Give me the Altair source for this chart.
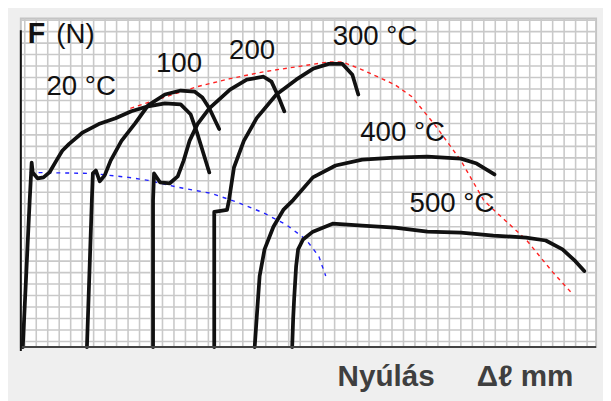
import altair as alt
import pandas as pd

# Curves (arbitrary elongation units, force units)
c20_x = [2, 9, 11, 12, 17, 23, 29, 36, 42, 49, 62, 79, 96, 112, 129, 146, 162, 172, 179, 191]
c20_y = [0, 149, 187, 177, 171, 172, 177, 189, 199, 206, 217, 226, 232, 239, 244, 247, 246, 236, 216, 177]

c100_x = [67, 72, 73, 76, 80, 85, 91, 102, 116, 129, 146, 162, 176, 184, 191, 201]
c100_y = [0, 149, 176, 179, 168, 174, 189, 209, 227, 245, 256, 260, 259, 253, 242, 221]

c200_x = [134, 134, 135, 141, 151, 159, 165, 171, 179, 191, 212, 229, 246, 254, 261, 267]
c200_y = [0, 149, 176, 167, 166, 173, 189, 209, 226, 242, 261, 271, 274, 269, 254, 239]

c300_x = [196, 196, 209, 211, 216, 226, 239, 259, 279, 296, 312, 326, 336, 342]
c300_y = [0, 137, 139, 149, 182, 209, 232, 256, 271, 282, 287, 287, 276, 256]

c400_x = [237, 239, 242, 247, 256, 266, 276, 296, 319, 346, 379, 412, 446, 462, 480]
c400_y = [0, 29, 72, 99, 122, 139, 149, 172, 184, 190, 192, 193, 191, 186, 175]

c500_x = [275, 276, 277, 279, 281, 286, 296, 316, 346, 379, 412, 446, 479, 512, 532, 549, 562, 571]
c500_y = [0, 29, 49, 82, 99, 109, 117, 125, 123, 121, 117, 116, 113, 111, 108, 99, 87, 77]

red_x = [111, 179, 212, 246, 279, 312, 326, 346, 379, 396, 419, 446, 469, 476, 512, 539, 559]
red_y = [242, 264, 272, 279, 284, 289, 289, 281, 266, 254, 226, 189, 149, 142, 109, 76, 54]

blue_x = [9, 72, 109, 129, 159, 192, 219, 246, 269, 289, 302, 309]
blue_y = [177, 176, 172, 169, 162, 156, 147, 136, 124, 109, 92, 72]

curve_names = ["20 °C", "100", "200", "300 °C", "400 °C", "500 °C"]
curve_xs = [c20_x, c100_x, c200_x, c300_x, c400_x, c500_x]
curve_ys = [c20_y, c100_y, c200_y, c300_y, c400_y, c500_y]

label_text = ["20 °C", "100", "200", "300 °C", "400 °C", "500 °C"]
label_x = [26, 137, 211, 316, 344, 394]
label_y = [255, 279, 292, 306, 209, 137]

X_MAX, Y_MAX = 583, 333
GRID = 11.63
grid_x = [round(4 + GRID * k, 2) for k in range(50)]
grid_y = [round(5.7 + GRID * k, 2) for k in range(29)]

rows = []
for name, xs_, ys_ in zip(curve_names, curve_xs, curve_ys):
    for i, (a, b) in enumerate(zip(xs_, ys_)):
        rows.append({"s": name, "x": a, "y": b, "o": i})
curves = pd.DataFrame(rows)
red = pd.DataFrame({"x": red_x, "y": red_y, "o": range(len(red_x))})
blue = pd.DataFrame({"x": blue_x, "y": blue_y, "o": range(len(blue_x))})
labels = pd.DataFrame({"t": label_text, "x": label_x, "y": label_y})
gx = pd.DataFrame({"x": grid_x, "y0": 0, "y1": Y_MAX})
gy = pd.DataFrame({"y": grid_y, "x0": 0, "x1": X_MAX})

xs = alt.Scale(domain=[0, X_MAX], nice=False, zero=False)
ys = alt.Scale(domain=[0, Y_MAX], nice=False, zero=False)
noax = None

grid_v = alt.Chart(gx).mark_rule(color="#c9c9c9", strokeWidth=1.6).encode(
    x=alt.X("x:Q", scale=xs, axis=noax), y=alt.Y("y0:Q", scale=ys, axis=noax), y2="y1:Q")
grid_h = alt.Chart(gy).mark_rule(color="#c9c9c9", strokeWidth=1.6).encode(
    y=alt.Y("y:Q", scale=ys, axis=noax), x=alt.X("x0:Q", scale=xs, axis=noax), x2="x1:Q")

red_line = alt.Chart(red).mark_line(color="#ff2020", strokeWidth=1.4, strokeDash=[4, 4]).encode(
    x=alt.X("x:Q", scale=xs, axis=noax), y=alt.Y("y:Q", scale=ys, axis=noax), order="o:Q")
blue_line = alt.Chart(blue).mark_line(color="#2020ff", strokeWidth=1.4, strokeDash=[4, 5]).encode(
    x=alt.X("x:Q", scale=xs, axis=noax), y=alt.Y("y:Q", scale=ys, axis=noax), order="o:Q")

lines = alt.Chart(curves).mark_line(color="#111111", strokeWidth=3.8, strokeJoin="round",
                                     strokeCap="round").encode(
    x=alt.X("x:Q", scale=xs, axis=noax), y=alt.Y("y:Q", scale=ys, axis=noax),
    detail="s:N", order="o:Q")

axis_frame = pd.DataFrame({"x": [0], "x2": [X_MAX], "y": [0], "ytop": [-4], "ytop2": [321]})
bottom_axis = alt.Chart(axis_frame).mark_rule(color="#444444", strokeWidth=2).encode(
    x=alt.X("x:Q", scale=xs, axis=noax), x2="x2:Q", y=alt.Y("y:Q", scale=ys, axis=noax))
left_axis = alt.Chart(axis_frame).mark_rule(color="#111111", strokeWidth=2).encode(
    x=alt.X("x:Q", scale=xs, axis=noax), y=alt.Y("ytop:Q", scale=ys, axis=noax), y2="ytop2:Q")

texts = alt.Chart(labels).mark_text(align="left", baseline="alphabetic", font="Liberation Sans",
                                    fontSize=28, color="#111111").encode(
    x=alt.X("x:Q", scale=xs, axis=noax), y=alt.Y("y:Q", scale=ys, axis=noax), text="t:N")

f_df = pd.DataFrame({"t": ["F"], "x": [7], "y": [308]})
n_df = pd.DataFrame({"t": ["(N)"], "x": [36], "y": [308]})
f_text = alt.Chart(f_df).mark_text(align="left", baseline="alphabetic", font="Liberation Sans",
                                   fontSize=29, fontWeight="bold", color="#111111").encode(
    x=alt.X("x:Q", scale=xs, axis=noax), y=alt.Y("y:Q", scale=ys, axis=noax), text="t:N")
n_text = alt.Chart(n_df).mark_text(align="left", baseline="alphabetic", font="Liberation Sans",
                                   fontSize=28, color="#111111").encode(
    x=alt.X("x:Q", scale=xs, axis=noax), y=alt.Y("y:Q", scale=ys, axis=noax), text="t:N")

bot_df = pd.DataFrame({"t": ["Nyúlás", "Δℓ mm"], "x": [321, 462], "y": [-39, -39]})
bot_text = alt.Chart(bot_df).mark_text(align="left", baseline="alphabetic", font="Liberation Sans",
                                       fontSize=30, fontWeight="bold", color="#3f3f3f").encode(
    x=alt.X("x:Q", scale=xs, axis=noax), y=alt.Y("y:Q", scale=ys, axis=noax), text="t:N")

chart = alt.layer(grid_v, grid_h, red_line, blue_line, lines, bottom_axis, left_axis,
                  texts, f_text, n_text, bot_text).properties(
    width=X_MAX, height=Y_MAX,
    autosize=alt.AutoSizeParams(type="none"),
    padding={"left": 13, "top": 8, "right": 7, "bottom": 52},
    background="#efefef",
).configure_view(fill="white", stroke="#c4c4c4", strokeWidth=2)

chart.save("out.html", embed_options={"renderer": "svg", "actions": False})
